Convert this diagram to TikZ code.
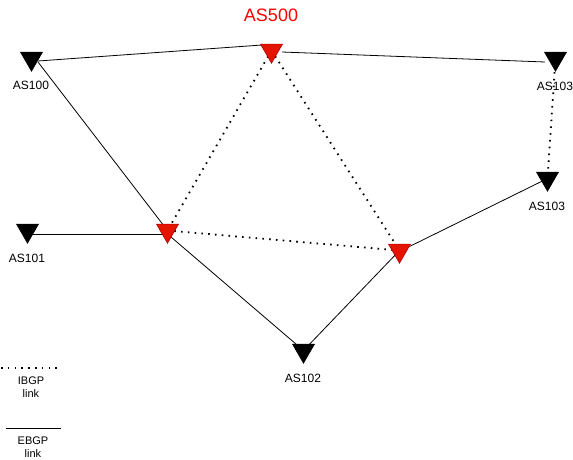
\documentclass[tikz,border=0pt]{standalone}
\usepackage{fontspec}
\setmainfont{Liberation Sans}
\usetikzlibrary{shapes.geometric,backgrounds}
\definecolor{redfill}{HTML}{E51400}
\definecolor{redline}{HTML}{B20000}
\begin{document}
\begin{tikzpicture}[x=1pt,y=-1pt,
  tri/.style={regular polygon,regular polygon sides=3,shape border rotate=180,
    minimum size=25.4pt,inner sep=0pt,outer sep=0pt,line width=0.6pt},
  blacktri/.style={tri,fill=black,draw=black},
  redtri/.style={tri,fill=redfill,draw=redline},
  lbl/.style={font=\fontsize{12}{14}\selectfont,inner sep=0pt},
  leg/.style={font=\fontsize{11}{13}\selectfont,inner sep=0pt,align=center},
  ebgp/.style={draw=black,line width=0.8pt},
  ibgp/.style={draw=black,line width=1.8pt,dash pattern=on 1.6pt off 5.2pt}]
\useasboundingbox (0,0) rectangle (573,460);
% nodes
\node[blacktri] (n100) at (31.5,58.5) {};
\node[redtri] (a500) at (271.5,50.5) {};
\node[blacktri] (n103a) at (555.5,58.5) {};
\node[blacktri] (n103b) at (547.5,178.5) {};
\node[blacktri] (n101) at (27.5,230.5) {};
\node[redtri] (rL) at (167.5,230.5) {};
\node[redtri] (rR) at (399.5,250.5) {};
\node[blacktri] (n102) at (303.5,350.5) {};
% labels
\node[font=\fontsize{18}{20}\selectfont,text=red,inner sep=0pt] (t500) at (271,15) {AS500};
\node[lbl] (t100) at (31,85) {AS100};
\node[lbl] (t103a) at (555,86) {AS103};
\node[lbl] (t103b) at (547,206) {AS103};
\node[lbl] (t101) at (27,258) {AS101};
\node[lbl] (t102) at (303,378) {AS102};
% edges
\begin{pgfonlayer}{background}
\draw[ebgp] ([shift={(6.5,2.5)}]n100.center) -- ([shift={(-9.5,-5.5)}]a500.center);
\draw[ebgp] ([shift={(10.5,1.5)}]a500.center) -- ([shift={(-10.5,3.5)}]n103a.center);
\draw[ebgp] ([shift={(6.5,3.5)}]n100.center) -- (rL.center);
\draw[ebgp] ([shift={(0,3.5)}]n101.center) -- ([shift={(0,3.5)}]rL.center);
\draw[ebgp] ([shift={(0,3.5)}]rL.center) -- (n102.center);
\draw[ebgp] (rR.center) -- (n102.center);
\draw[ebgp] ([shift={(10,-4)}]rR.center) -- (n103b.center);
\draw[ibgp] (a500.center) -- (rL.center);
\draw[ibgp] (a500.center) -- (rR.center);
\draw[ibgp] (rL.center) -- (rR.center);
\draw[ibgp] (n103a.center) -- (n103b.center);
\end{pgfonlayer}
% legend
\coordinate (i1) at (1,368);
\coordinate (i2) at (61,368);
\draw[ibgp] (i1) -- (i2);
\node[leg] (ti) at (31,387.5) {IBGP\\link};
\coordinate (e1) at (6,428);
\coordinate (e2) at (61,428);
\draw[ebgp] (e1) -- (e2);
\node[leg] (te) at (33,447.5) {EBGP\\link};
\end{tikzpicture}
\end{document}
